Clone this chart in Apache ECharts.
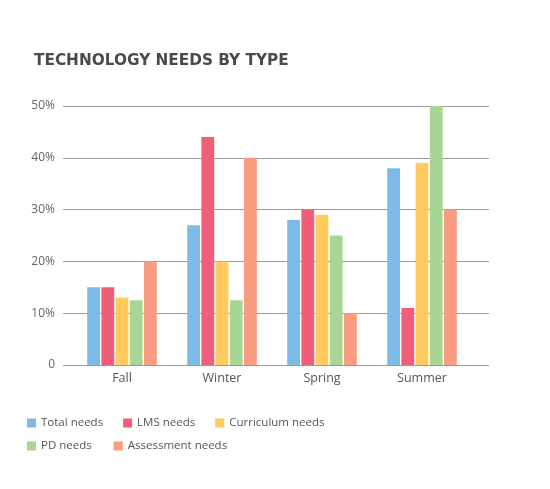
<!DOCTYPE HTML>
<html>
<head>
    <meta charset="UTF-8">
    <title>Technology Needs by Type</title>
    <style>
        body{ margin:0; background-color:#ffffff; }
        #main{ width:550px; height:489px; }
    </style>
    <script src="https://cdn.jsdelivr.net/npm/echarts@6/dist/echarts.min.js"></script>
</head>
<body>
<div id="main"></div>
<script type="text/javascript">
    // data
    var seasons = ['Fall', 'Winter', 'Spring', 'Summer'];
    var seriesNames = ['Total needs', 'LMS needs', 'Curriculum needs', 'PD needs', 'Assessment needs'];
    var totalNeeds = [15, 27, 28, 38];
    var lmsNeeds = [15, 44, 30, 11];
    var curriculumNeeds = [13, 20, 29, 39];
    var pdNeeds = [12.5, 12.5, 25, 50];
    var assessmentNeeds = [20, 40, 10, 30];
    var yTicks = [0, 10, 20, 30, 40, 50];

    var colors = ['#7dbbe6', '#f15e7b', '#ffcb5e', '#a9d595', '#f99c82'];
    var values = [totalNeeds, lmsNeeds, curriculumNeeds, pdNeeds, assessmentNeeds];

    var myChart = echarts.init(document.getElementById('main'));

    var series = [];
    for (var i = 0; i < seriesNames.length; i++) {
        series.push({
            name: seriesNames[i],
            type: 'bar',
            xAxisIndex: 1,
            yAxisIndex: 1,
            barWidth: 12.8,
            barGap: '11%',
            itemStyle: { color: colors[i] },
            data: values[i]
        });
    }

    var legendText = { color: '#555', fontSize: 11.5, fontFamily: 'Open Sans' };

    var option = {
        backgroundColor: '#ffffff',
        animation: false,
        title: {
            text: 'TECHNOLOGY NEEDS BY TYPE',
            left: 29,
            top: 49,
            textStyle: {
                color: '#4a4a4a',
                fontSize: 15.3,
                fontWeight: 'bold',
                fontFamily: 'DejaVu Sans'
            }
        },
        legend: [
            {
                data: seriesNames.slice(0, 3),
                left: 22, top: 412,
                icon: 'rect', itemWidth: 9, itemHeight: 9, itemGap: 20,
                textStyle: legendText
            },
            {
                data: seriesNames.slice(3),
                left: 22, top: 435,
                icon: 'rect', itemWidth: 9, itemHeight: 9, itemGap: 22,
                textStyle: legendText
            }
        ],
        grid: [
            // grid for gridlines and y labels
            { left: 63, top: 106, width: 426, bottom: 124 },
            // grid for the bars
            { left: 72, top: 106, width: 400, bottom: 124 }
        ],
        xAxis: [
            { type: 'category', gridIndex: 0, data: seasons, show: false },
            {
                type: 'category', gridIndex: 1, data: seasons,
                axisLine: { show: false },
                axisTick: { show: false },
                axisLabel: { color: '#555', fontSize: 12.5, fontFamily: 'Open Sans', margin: 7 }
            }
        ],
        yAxis: [
            {
                type: 'value', gridIndex: 0,
                min: yTicks[0], max: yTicks[yTicks.length - 1], interval: 10,
                axisLine: { show: false },
                axisTick: { show: false },
                splitLine: { lineStyle: { color: '#9a9a9a', width: 1 } },
                axisLabel: {
                    color: '#666', fontSize: 12, fontFamily: 'Open Sans', margin: 8,
                    formatter: function (v) { return v === 0 ? '0' : v + '%'; }
                }
            },
            {
                type: 'value', gridIndex: 1,
                min: yTicks[0], max: yTicks[yTicks.length - 1], interval: 10,
                show: false
            }
        ],
        series: series
    };
    myChart.setOption(option);
</script>
</body>
</html>
